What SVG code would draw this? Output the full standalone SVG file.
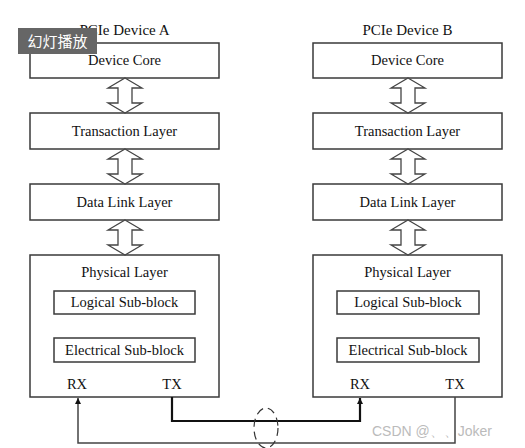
<svg xmlns="http://www.w3.org/2000/svg" width="525" height="448" viewBox="0 0 525 448">
<style>
.box{fill:#fff;stroke:#3a3a3a;stroke-width:1.5}
.lbl{font-family:'Liberation Serif','Times New Roman',serif;font-size:14.5px;fill:#111;text-anchor:middle}
.title{font-family:'Liberation Serif','Times New Roman',serif;font-size:15px;fill:#111;text-anchor:middle}
.darr{fill:#fff;stroke:#444;stroke-width:1.3}
</style>
<defs>
<marker id="ah" viewBox="0 0 10 10" refX="10" refY="5" markerWidth="6" markerHeight="6" orient="auto" markerUnits="userSpaceOnUse">
<path d="M0,0 L10,5 L0,10 z" fill="#111"/>
</marker>
<polygon id="dbl" points="0,0 17,10 7,10 7,25 17,25 0,35 -17,25 -7,25 -7,10 -17,10"/>
</defs>
<rect width="525" height="448" fill="#fff"/>

<g id="deviceA" font-family="Liberation Serif, Times New Roman, serif">
<text class="title" x="124.5" y="35">PCIe Device A</text>
<g id="A-core"><rect class="box" x="30" y="43" width="189" height="35"/><text class="lbl" x="124.5" y="65">Device Core</text></g>
<g id="A-trans"><rect class="box" x="30" y="113" width="189" height="36"/><text class="lbl" x="124.5" y="135.5">Transaction Layer</text></g>
<g id="A-dll"><rect class="box" x="30" y="184" width="189" height="36"/><text class="lbl" x="124.5" y="206.5">Data Link Layer</text></g>
<g id="A-phy">
<rect class="box" x="30" y="255" width="189" height="142"/>
<text class="lbl" x="124.5" y="277">Physical Layer</text>
<rect class="box" x="54" y="291" width="141" height="23"/><text class="lbl" x="124.5" y="307">Logical Sub-block</text>
<rect class="box" x="54" y="338" width="141" height="24"/><text class="lbl" x="124.5" y="355">Electrical Sub-block</text>
<text class="lbl" x="77" y="389">RX</text>
<text class="lbl" x="172" y="389">TX</text>
</g>
</g>

<g id="deviceB" font-family="Liberation Serif, Times New Roman, serif">
<text class="title" x="407.5" y="35">PCIe Device B</text>
<g id="B-core"><rect class="box" x="313" y="43" width="189" height="35"/><text class="lbl" x="407.5" y="65">Device Core</text></g>
<g id="B-trans"><rect class="box" x="313" y="113" width="189" height="36"/><text class="lbl" x="407.5" y="135.5">Transaction Layer</text></g>
<g id="B-dll"><rect class="box" x="313" y="184" width="189" height="36"/><text class="lbl" x="407.5" y="206.5">Data Link Layer</text></g>
<g id="B-phy">
<rect class="box" x="313" y="255" width="189" height="142"/>
<text class="lbl" x="407.5" y="277">Physical Layer</text>
<rect class="box" x="337" y="291" width="142" height="23"/><text class="lbl" x="408" y="307">Logical Sub-block</text>
<rect class="box" x="337" y="338" width="142" height="24"/><text class="lbl" x="408" y="355">Electrical Sub-block</text>
<text class="lbl" x="360" y="389">RX</text>
<text class="lbl" x="455" y="389">TX</text>
</g>
</g>

<g id="connectors">
<use href="#dbl" class="darr" x="125" y="78"/>
<use href="#dbl" class="darr" x="125" y="149"/>
<use href="#dbl" class="darr" x="125" y="220"/>
<use href="#dbl" class="darr" x="408" y="78"/>
<use href="#dbl" class="darr" x="408" y="149"/>
<use href="#dbl" class="darr" x="408" y="220"/>
<polyline points="172,397 172,421 360,421 360,398" fill="none" stroke="#111" stroke-width="2.2" marker-end="url(#ah)"/>
<polyline points="455,397 455,443 78,443 78,398" fill="none" stroke="#444" stroke-width="1.5" marker-end="url(#ah)"/>
<ellipse cx="266" cy="428" rx="12" ry="20" fill="none" stroke="#333" stroke-width="1.2" stroke-dasharray="8,5"/>
</g>

<g id="overlay">
<rect x="18" y="28" width="79" height="26" fill="#666"/>
<text x="57.5" y="47" font-family="Noto Sans CJK SC, sans-serif" font-size="15" fill="#fff" text-anchor="middle">幻灯播放</text>
<text x="372" y="436" font-family="Liberation Sans, Arial, sans-serif" font-size="14" fill="#bbb">CSDN @、、Joker</text>
</g>
</svg>
